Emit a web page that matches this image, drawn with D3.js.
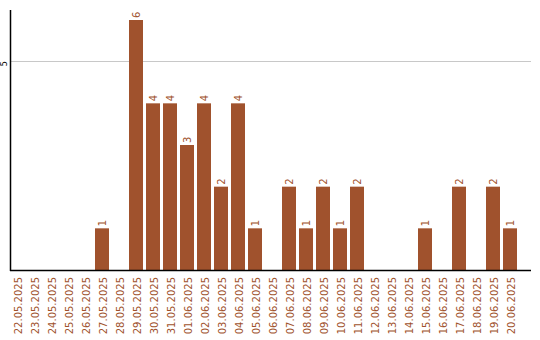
<!DOCTYPE html>
<html><head><meta charset="utf-8">
<script src="https://cdn.jsdelivr.net/npm/d3@7"></script>
<style>body{margin:0;background:#fff}svg{display:block}</style>
</head><body>
<svg id="c" width="540" height="340"></svg>
<script>
const categories = ["22.05.2025","23.05.2025","24.05.2025","25.05.2025","26.05.2025","27.05.2025","28.05.2025","29.05.2025","30.05.2025","31.05.2025","01.06.2025","02.06.2025","03.06.2025","04.06.2025","05.06.2025","06.06.2025","07.06.2025","08.06.2025","09.06.2025","10.06.2025","11.06.2025","12.06.2025","13.06.2025","14.06.2025","15.06.2025","16.06.2025","17.06.2025","18.06.2025","19.06.2025","20.06.2025"];
const values = [0,0,0,0,0,1,0,6,4,4,3,4,2,4,1,0,2,1,2,1,2,0,0,0,1,0,2,0,2,1];
const yTicks = [5];

const color = "#a0522d";
const svg = d3.select("#c");
const x = d3.scaleBand().domain(categories).range([10, 517]).paddingInner(3/17).paddingOuter(0);
const y = d3.scaleLinear().domain([0, 6]).range([270, 20]);

// gridlines
svg.selectAll("line.grid").data(yTicks).enter().append("line").attr("class", "grid")
  .attr("x1", 11).attr("x2", 531)
  .attr("y1", d => Math.round(y(d)) - 0.5).attr("y2", d => Math.round(y(d)) - 0.5)
  .attr("stroke", "#c8c8c8").attr("stroke-width", 1);

// y tick labels
svg.selectAll("text.yt").data(yTicks).enter().append("text").attr("class", "yt")
  .attr("transform", d => `translate(7,${y(d) + 2}) rotate(-90)`)
  .attr("text-anchor", "middle")
  .attr("font-family", "DejaVu Sans").attr("font-size", 8).attr("fill", "#000")
  .text(d => d);

// bars
svg.selectAll("rect.bar").data(values).enter().append("rect").attr("class", "bar")
  .attr("x", (d, i) => x(categories[i]))
  .attr("width", x.bandwidth())
  .attr("y", d => y(d))
  .attr("height", d => y(0) - y(d))
  .attr("fill", color);

// value labels
const labeled = values.map((v, i) => ({v: v, c: categories[i]})).filter(d => d.v > 0);
svg.selectAll("text.vl").data(labeled).enter().append("text").attr("class", "vl")
  .attr("transform", d => `translate(${x(d.c) + x.bandwidth() / 2},${y(d.v) - 2}) rotate(-90)`)
  .attr("text-anchor", "start").attr("dominant-baseline", "central")
  .attr("font-family", "DejaVu Sans").attr("font-size", 10).attr("fill", color)
  .text(d => String(d.v));

// x labels
svg.selectAll("text.xl").data(categories).enter().append("text").attr("class", "xl")
  .attr("transform", d => `translate(${x(d) + x.bandwidth() / 2 + 1},277) rotate(-90)`)
  .attr("text-anchor", "end").attr("dominant-baseline", "central")
  .attr("font-family", "DejaVu Sans").attr("font-size", 10).attr("fill", color)
  .text(d => d);

// axes lines
svg.append("line").attr("x1", 10.5).attr("x2", 10.5).attr("y1", 10).attr("y2", 271)
  .attr("stroke", "#000").attr("stroke-width", 1.5);
svg.append("line").attr("x1", 10).attr("x2", 531).attr("y1", 270.5).attr("y2", 270.5)
  .attr("stroke", "#000").attr("stroke-width", 1.5);
</script>
</body></html>
